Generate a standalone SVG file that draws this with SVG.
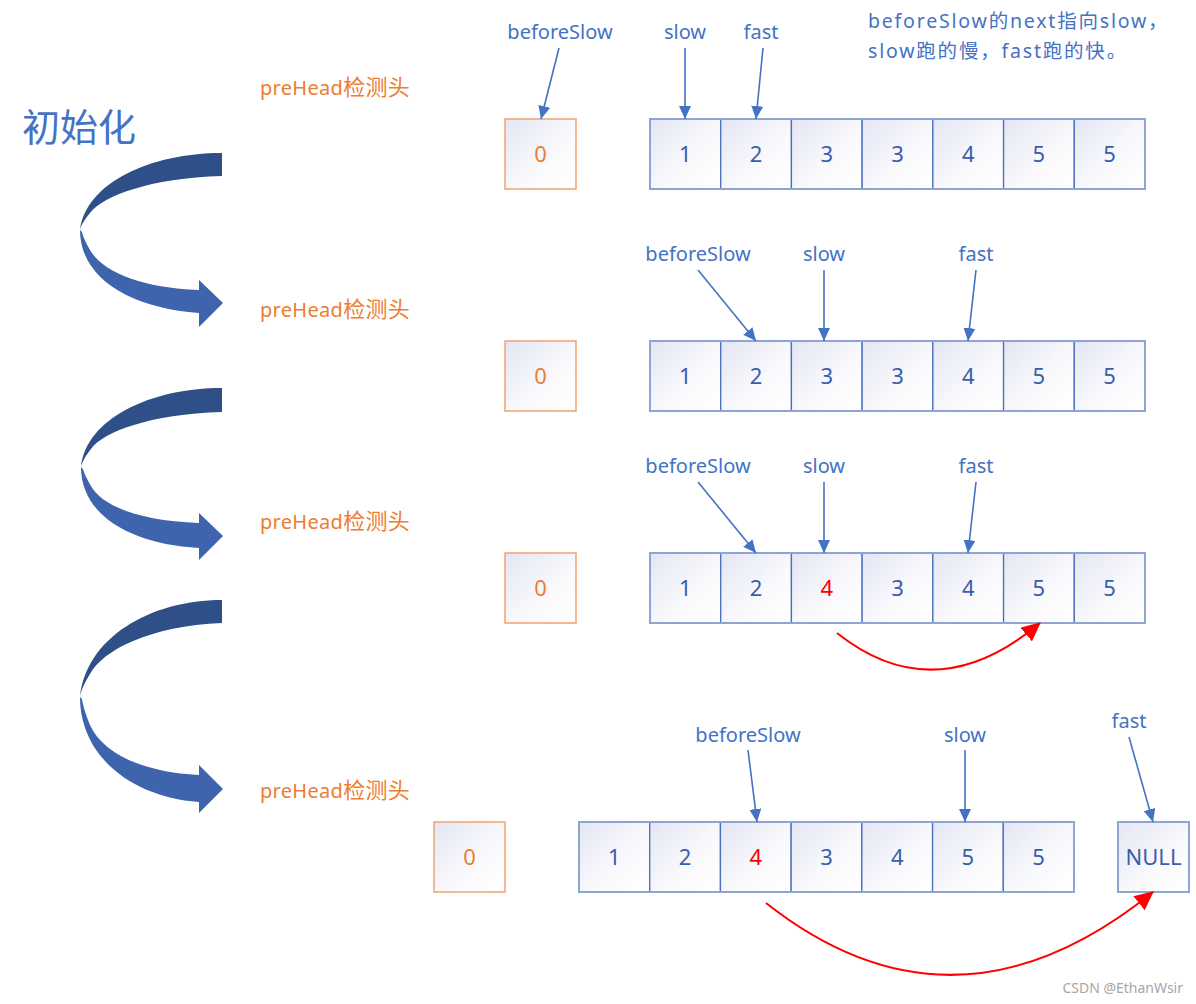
<svg xmlns="http://www.w3.org/2000/svg" width="1196" height="1004" viewBox="0 0 1196 1004">
<style>
text{font-family:"Noto Sans","Noto Sans CJK SC",sans-serif}
.lbl{font-size:20px;fill:#4472C4;text-anchor:middle}
.pre{font-size:20px;fill:#ED7D31;letter-spacing:0.3px}
.cjk{font-size:22px}
.num{font-size:22px;fill:#3A5EAD;text-anchor:middle}
.red{fill:#FF0000}
.zero{font-size:22px;fill:#ED7D31;text-anchor:middle}
.cell{fill:url(#cg);stroke:#4A70BC;stroke-width:1.3}
.outer{fill:none;stroke:#8EA5D4;stroke-width:2}
.obox{fill:url(#cg);stroke:#F3A877;stroke-width:1.6}
.ptr{stroke:#4472C4;stroke-width:1.6;fill:none;marker-end:url(#ab)}
.jump{stroke:#FF0000;stroke-width:2;fill:none;marker-end:url(#ar)}
.dk{fill:#2F4F88}
.lt{fill:#3E64AD}
.note{font-size:19.5px;fill:#4472C4;letter-spacing:1.8px}
</style>
<defs>
<linearGradient id="cg" x1="0" y1="0" x2="1" y2="1">
<stop offset="0" stop-color="#E3E6F3"/>
<stop offset="0.6" stop-color="#FAFAFD"/>
<stop offset="1" stop-color="#FFFFFF"/>
</linearGradient>
<marker id="ab" markerUnits="userSpaceOnUse" markerWidth="14" markerHeight="12" refX="13" refY="6" orient="auto">
<path d="M0,0 L13,6 L0,12 Z" fill="#4472C4"/>
</marker>
<marker id="ar" markerUnits="userSpaceOnUse" markerWidth="20" markerHeight="18" refX="18" refY="9" orient="auto">
<path d="M0,0 L19,9 L0,18 Z" fill="#FF0000"/>
</marker>
</defs>

<text x="22" y="141" style="font-size:38px;fill:#4472C4">初始化</text>

<g id="curve1" transform="translate(0,153)">
<path class="dk" d="M222,0 L222,23 C150,25 103,43 90,60 C85,66 81,72 80,77 C86,30 150,0 222,0 Z"/>
<path class="lt" d="M80,77 C80,125 130,155 199,160 L199,174 L223,150 L199,127 L199,137 C140,135 102,118 90,97 C86,90 83,84 82,79 Z"/>
</g>
<g id="curve2" transform="translate(0,388)">
<path class="dk" d="M222,0 L222,24 C150,26 103,44 91,61 C86,67 82,74 81,79 C86,31 150,0 222,0 Z"/>
<path class="lt" d="M81,79 C81,127 130,156 199,160 L199,172 L223,148 L199,125 L199,135 C140,133 102,118 91,98 C87,91 84,85 83,81 Z"/>
</g>
<g id="curve3" transform="translate(0,600)">
<path class="dk" d="M222,0 L222,23 C150,26 103,50 90,74 C85,82 81,90 80,97 C86,38 150,0 222,0 Z"/>
<path class="lt" d="M80,97 C80,155 130,197 199,202 L199,213 L223,189 L199,165 L199,175 C140,172 102,152 90,125 C86,115 83,106 82,99 Z"/>
</g>

<text class="pre" x="260" y="95">preHead<tspan class="cjk">检测头</tspan></text>
<text class="pre" x="260" y="317">preHead<tspan class="cjk">检测头</tspan></text>
<text class="pre" x="260" y="529">preHead<tspan class="cjk">检测头</tspan></text>
<text class="pre" x="260" y="798">preHead<tspan class="cjk">检测头</tspan></text>

<text class="note" x="868" y="28">beforeSlow的next指向slow，</text>
<text class="note" x="868" y="58">slow跑的慢，fast跑的快。</text>

<!-- Row 1 -->
<g id="row1-head"><rect class="obox" x="505" y="119" width="71" height="70"/><text class="zero" x="540.5" y="162">0</text></g>
<g id="row1-list">
<rect class="cell" x="650" y="119" width="70.71" height="70"/>
<rect class="cell" x="720.71" y="119" width="70.71" height="70"/>
<rect class="cell" x="791.43" y="119" width="70.71" height="70"/>
<rect class="cell" x="862.14" y="119" width="70.71" height="70"/>
<rect class="cell" x="932.86" y="119" width="70.71" height="70"/>
<rect class="cell" x="1003.57" y="119" width="70.71" height="70"/>
<rect class="cell" x="1074.29" y="119" width="70.71" height="70"/>
<rect class="outer" x="650" y="119" width="495" height="70"/>
<text class="num" x="685.4" y="162">1</text>
<text class="num" x="756.1" y="162">2</text>
<text class="num" x="826.8" y="162">3</text>
<text class="num" x="897.5" y="162">3</text>
<text class="num" x="968.2" y="162">4</text>
<text class="num" x="1038.9" y="162">5</text>
<text class="num" x="1109.6" y="162">5</text>
</g>
<text class="lbl" x="560" y="39">beforeSlow</text>
<text class="lbl" x="685" y="39">slow</text>
<text class="lbl" x="761" y="39">fast</text>

<!-- Row 2 -->
<g id="row2-head"><rect class="obox" x="505" y="341" width="71" height="70"/><text class="zero" x="540.5" y="384">0</text></g>
<g id="row2-list">
<rect class="cell" x="650" y="341" width="70.71" height="70"/>
<rect class="cell" x="720.71" y="341" width="70.71" height="70"/>
<rect class="cell" x="791.43" y="341" width="70.71" height="70"/>
<rect class="cell" x="862.14" y="341" width="70.71" height="70"/>
<rect class="cell" x="932.86" y="341" width="70.71" height="70"/>
<rect class="cell" x="1003.57" y="341" width="70.71" height="70"/>
<rect class="cell" x="1074.29" y="341" width="70.71" height="70"/>
<rect class="outer" x="650" y="341" width="495" height="70"/>
<text class="num" x="685.4" y="384">1</text>
<text class="num" x="756.1" y="384">2</text>
<text class="num" x="826.8" y="384">3</text>
<text class="num" x="897.5" y="384">3</text>
<text class="num" x="968.2" y="384">4</text>
<text class="num" x="1038.9" y="384">5</text>
<text class="num" x="1109.6" y="384">5</text>
</g>
<text class="lbl" x="698" y="261">beforeSlow</text>
<text class="lbl" x="824" y="261">slow</text>
<text class="lbl" x="976" y="261">fast</text>

<!-- Row 3 -->
<g id="row3-head"><rect class="obox" x="505" y="553" width="71" height="70"/><text class="zero" x="540.5" y="596">0</text></g>
<g id="row3-list">
<rect class="cell" x="650" y="553" width="70.71" height="70"/>
<rect class="cell" x="720.71" y="553" width="70.71" height="70"/>
<rect class="cell" x="791.43" y="553" width="70.71" height="70"/>
<rect class="cell" x="862.14" y="553" width="70.71" height="70"/>
<rect class="cell" x="932.86" y="553" width="70.71" height="70"/>
<rect class="cell" x="1003.57" y="553" width="70.71" height="70"/>
<rect class="cell" x="1074.29" y="553" width="70.71" height="70"/>
<rect class="outer" x="650" y="553" width="495" height="70"/>
<text class="num" x="685.4" y="596">1</text>
<text class="num" x="756.1" y="596">2</text>
<text class="num red" x="826.8" y="596">4</text>
<text class="num" x="897.5" y="596">3</text>
<text class="num" x="968.2" y="596">4</text>
<text class="num" x="1038.9" y="596">5</text>
<text class="num" x="1109.6" y="596">5</text>
</g>
<text class="lbl" x="698" y="473">beforeSlow</text>
<text class="lbl" x="824" y="473">slow</text>
<text class="lbl" x="976" y="473">fast</text>

<!-- Row 4 -->
<g id="row4-head"><rect class="obox" x="434" y="822" width="71" height="70"/><text class="zero" x="469.5" y="865">0</text></g>
<g id="row4-list">
<rect class="cell" x="579" y="822" width="70.71" height="70"/>
<rect class="cell" x="649.71" y="822" width="70.71" height="70"/>
<rect class="cell" x="720.43" y="822" width="70.71" height="70"/>
<rect class="cell" x="791.14" y="822" width="70.71" height="70"/>
<rect class="cell" x="861.86" y="822" width="70.71" height="70"/>
<rect class="cell" x="932.57" y="822" width="70.71" height="70"/>
<rect class="cell" x="1003.29" y="822" width="70.71" height="70"/>
<rect class="outer" x="579" y="822" width="495" height="70"/>
<text class="num" x="614.4" y="865">1</text>
<text class="num" x="685.1" y="865">2</text>
<text class="num red" x="755.8" y="865">4</text>
<text class="num" x="826.5" y="865">3</text>
<text class="num" x="897.2" y="865">4</text>
<text class="num" x="967.9" y="865">5</text>
<text class="num" x="1038.6" y="865">5</text>
</g>
<g id="row4-null"><rect class="cell" x="1118" y="822" width="71" height="70" style="stroke:#8EA5D4;stroke-width:2"/><text class="num" x="1153.5" y="865">NULL</text></g>
<text class="lbl" x="748" y="742">beforeSlow</text>
<text class="lbl" x="965" y="742">slow</text>
<text class="lbl" x="1129" y="728">fast</text>

<g id="connectors">
<line class="ptr" x1="559" y1="48" x2="541" y2="119"/>
<line class="ptr" x1="685" y1="48" x2="685" y2="119"/>
<line class="ptr" x1="763" y1="48" x2="756" y2="119"/>
<line class="ptr" x1="698" y1="270" x2="756" y2="341"/>
<line class="ptr" x1="824" y1="270" x2="824" y2="341"/>
<line class="ptr" x1="976" y1="270" x2="968" y2="341"/>
<line class="ptr" x1="698" y1="482" x2="756" y2="553"/>
<line class="ptr" x1="824" y1="482" x2="824" y2="553"/>
<line class="ptr" x1="976" y1="482" x2="968" y2="553"/>
<line class="ptr" x1="748" y1="750" x2="757" y2="822"/>
<line class="ptr" x1="965" y1="750" x2="965" y2="822"/>
<line class="ptr" x1="1129" y1="737" x2="1153" y2="822"/>
<path class="jump" d="M837,633 Q935,711 1040,623"/>
<path class="jump" d="M766,903 Q955,1052 1153,892"/>
</g>

<text x="1183" y="993" style="font-size:14px;fill:#A6A6A6;text-anchor:end">CSDN @EthanWsir</text>
</svg>
